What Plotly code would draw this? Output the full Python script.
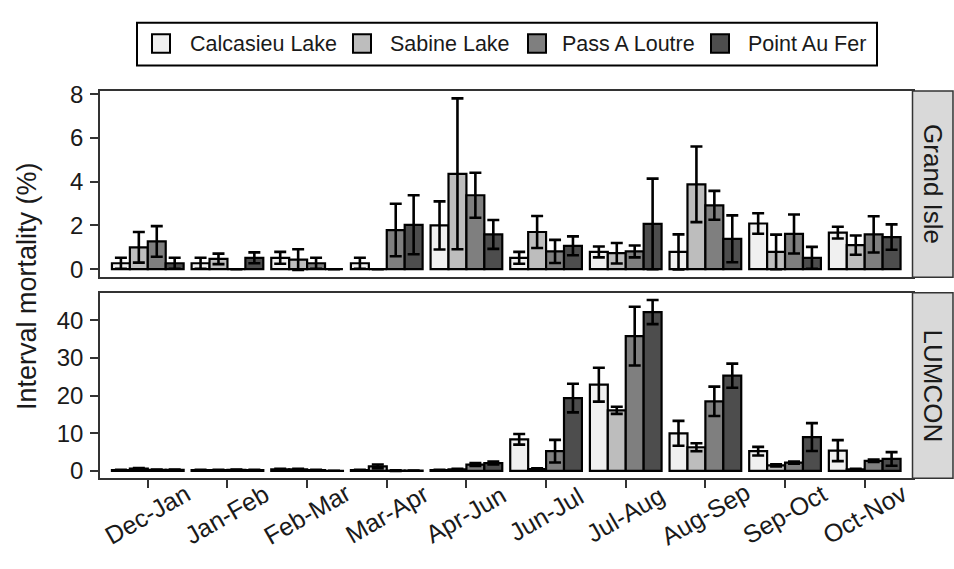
import plotly.graph_objects as go

# ---------------- data ----------------
categories = ["Dec-Jan", "Jan-Feb", "Feb-Mar", "Mar-Apr", "Apr-Jun",
              "Jun-Jul", "Jul-Aug", "Aug-Sep", "Sep-Oct", "Oct-Nov"]
sites = ["Calcasieu Lake", "Sabine Lake", "Pass A Loutre", "Point Au Fer"]
panels = ["Grand Isle", "LUMCON"]

# Grand Isle (top panel) means and standard errors
calc_gi = [0.27, 0.27, 0.52, 0.27, 2.00, 0.52, 0.79, 0.79, 2.09, 1.67]
calc_gi_se = [0.25, 0.25, 0.27, 0.25, 1.10, 0.27, 0.25, 0.80, 0.47, 0.27]
sab_gi = [1.00, 0.47, 0.44, 0.00, 4.36, 1.70, 0.73, 3.88, 0.79, 1.10]
sab_gi_se = [0.70, 0.24, 0.47, None, 3.45, 0.73, 0.47, 1.73, 0.79, 0.44]
pass_gi = [1.27, 0.00, 0.27, 1.79, 3.38, 0.81, 0.81, 2.92, 1.61, 1.59]
pass_gi_se = [0.70, None, 0.25, 1.20, 1.03, 0.53, 0.27, 0.66, 0.89, 0.83]
point_gi = [0.27, 0.52, 0.00, 2.03, 1.59, 1.07, 2.07, 1.39, 0.52, 1.47]
point_gi_se = [0.25, 0.25, None, 1.35, 0.66, 0.43, 2.07, 1.07, 0.50, 0.58]

# LUMCON (bottom panel)
calc_lu = [0.2, 0.2, 0.4, 0.2, 0.2, 8.4, 22.9, 10.0, 5.25, 5.4]
calc_lu_se = [0.1, 0.1, 0.15, 0.1, 0.1, 1.4, 4.5, 3.3, 1.15, 2.8]
sab_lu = [0.6, 0.2, 0.4, 1.2, 0.4, 0.5, 16.1, 6.3, 1.5, 0.4]
sab_lu_se = [0.2, 0.1, 0.15, 0.5, 0.15, 0.2, 0.95, 1.05, 0.3, 0.2]
pass_lu = [0.3, 0.3, 0.2, 0.1, 1.7, 5.25, 35.8, 18.5, 2.2, 2.7]
pass_lu_se = [0.1, 0.1, 0.1, 0.1, 0.4, 3.0, 7.8, 3.9, 0.3, 0.3]
point_lu = [0.3, 0.2, 0.05, 0.1, 2.1, 19.35, 42.2, 25.3, 9.0, 3.2]
point_lu_se = [0.1, 0.1, None, None, 0.4, 3.8, 3.2, 3.2, 3.7, 1.8]

colors = ["#F0F0F0", "#BDBDBD", "#7F7F7F", "#4D4D4D"]
y_title = "Interval mortality (%)"

gi_vals = [calc_gi, sab_gi, pass_gi, point_gi]
gi_ses = [calc_gi_se, sab_gi_se, pass_gi_se, point_gi_se]
lu_vals = [calc_lu, sab_lu, pass_lu, point_lu]
lu_ses = [calc_lu_se, sab_lu_se, pass_lu_se, point_lu_se]

# ---------------- geometry helpers ----------------
W, H = 954, 569
FONT = "Liberation Sans, Arial, sans-serif"
TXT = "#1a1a1a"


def px_x(p):
    return p / W


def px_y(p):
    return 1 - p / H


fig = go.Figure()

for axis_idx, (vals, ses) in enumerate([(gi_vals, gi_ses), (lu_vals, lu_ses)]):
    xa = "x" if axis_idx == 0 else "x2"
    ya = "y" if axis_idx == 0 else "y2"
    for s, name in enumerate(sites):
        fig.add_trace(go.Bar(
            x=categories, y=vals[s], name=name,
            xaxis=xa, yaxis=ya,
            marker=dict(color=colors[s], line=dict(color="black", width=2.2)),
            error_y=dict(type="data", array=ses[s], visible=True,
                         color="black", thickness=2.6, width=6),
            showlegend=False, offsetgroup=str(s),
        ))

axis_common = dict(showline=True, mirror=True, linecolor="#333333", linewidth=1.5,
                   showgrid=False, zeroline=False)
ytick_font = dict(family=FONT, size=24, color=TXT)

fig.update_layout(
    width=W, height=H, autosize=False,
    margin=dict(l=0, r=0, t=0, b=0),
    paper_bgcolor="white", plot_bgcolor="white",
    barmode="group", bargap=0.1, bargroupgap=0,
    font=dict(family=FONT, size=21.5, color=TXT),
    xaxis=dict(domain=[px_x(100), px_x(912.5)], anchor="y", type="category",
               range=[-0.6, 9.6], showticklabels=False, ticks="", **axis_common),
    yaxis=dict(domain=[px_y(275), px_y(83.3)], anchor="x", range=[-0.37, 8.15],
               tickvals=[0, 2, 4, 6, 8], ticks="outside", ticklen=8, tickwidth=1.5,
               tickcolor="#333333", tickfont=ytick_font, ticklabelstandoff=2,
               **axis_common),
    xaxis2=dict(domain=[px_x(100), px_x(912.5)], anchor="y2", type="category",
                range=[-0.6, 9.6], showticklabels=False, ticks="outside",
                ticklen=8, tickwidth=1.5, tickcolor="#333333", **axis_common),
    yaxis2=dict(domain=[px_y(481.7), px_y(291)], anchor="x2", range=[-1.91, 47.3],
                tickvals=[0, 10, 20, 30, 40], ticks="outside", ticklen=8, tickwidth=1.5,
                tickcolor="#333333", tickfont=ytick_font, ticklabelstandoff=2,
                **axis_common),
)

shapes = []
annotations = []

# strips
for (top, bot), label in zip([(83.3, 275), (291, 481.7)], panels):
    shapes.append(dict(type="rect", xref="paper", yref="paper",
                       x0=px_x(912.5), x1=px_x(953), y0=px_y(bot), y1=px_y(top),
                       fillcolor="#D9D9D9", line=dict(color="#333333", width=1.5),
                       layer="above"))
    annotations.append(dict(text=label, xref="paper", yref="paper",
                            x=px_x(933), y=px_y((top + bot) / 2), textangle=90,
                            showarrow=False, xanchor="center", yanchor="middle",
                            font=dict(family=FONT, size=26, color=TXT)))

# rotated x tick labels
for c in categories:
    annotations.append(dict(text=c, xref="x2", yref="paper", x=c, y=px_y(519),
                            textangle=-30, showarrow=False, xanchor="center",
                            yanchor="middle", font=dict(family=FONT, size=25, color=TXT)))

# y axis title
annotations.append(dict(text=y_title, xref="paper", yref="paper", x=px_x(27),
                        y=px_y(284), textangle=-90, showarrow=False,
                        xanchor="center", yanchor="middle",
                        font=dict(family=FONT, size=27, color=TXT)))

# legend (custom, to match key size)
shapes.append(dict(type="rect", xref="paper", yref="paper",
                   x0=px_x(137), x1=px_x(877), y0=px_y(57), y1=px_y(13),
                   fillcolor="white", line=dict(color="black", width=2)))
key_x = [152, 353, 528, 711]
text_x = [188, 388, 560, 746]
for s, name in enumerate(sites):
    shapes.append(dict(type="rect", xref="paper", yref="paper",
                       x0=px_x(key_x[s]), x1=px_x(key_x[s] + 18),
                       y0=px_y(44), y1=px_y(25),
                       fillcolor=colors[s], line=dict(color="black", width=2)))
    annotations.append(dict(text=name, xref="paper", yref="paper",
                            x=px_x(text_x[s]), y=px_y(35), showarrow=False,
                            xanchor="left", yanchor="middle",
                            font=dict(family=FONT, size=21.5, color=TXT)))

fig.update_layout(shapes=shapes, annotations=annotations)

fig.write_html(
    "out.html",
    config={"displayModeBar": False},
    post_script="document.body.style.margin='0px';document.body.style.overflow='hidden';",
)
